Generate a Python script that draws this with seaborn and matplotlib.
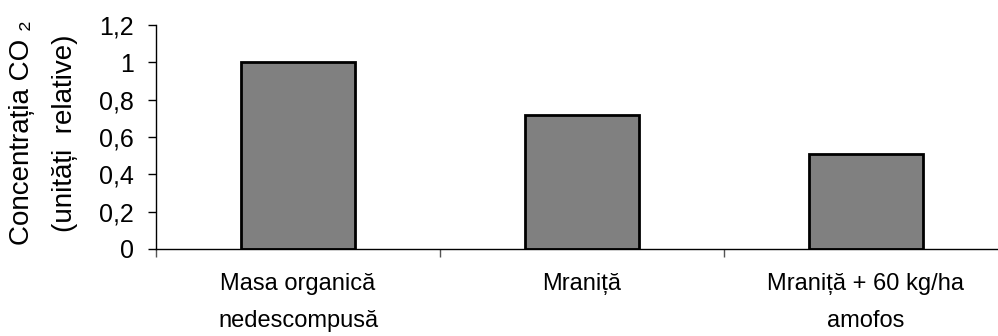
import matplotlib
matplotlib.use("Agg")
import numpy as np
import pandas as pd
import seaborn as sns
from matplotlib import pyplot as plt
from matplotlib.ticker import FuncFormatter

# ========================================================
# data
categories = ["Masa organică\nnedescompusă", "Mraniță", "Mraniță + 60 kg/ha\namofos"]
values = [1.0, 0.72, 0.51]
yticks = [0, 0.2, 0.4, 0.6, 0.8, 1.0, 1.2]

# ========================================================
sns.set_style("white")
plt.rcParams["font.family"] = ["Liberation Sans", "DejaVu Sans"]
plt.rcParams["text.color"] = "black"
plt.rcParams["xtick.color"] = "black"
plt.rcParams["ytick.color"] = "black"

df = pd.DataFrame({"cat": categories, "val": values})

fig = plt.figure(figsize=(9.98, 3.36), dpi=100)
ax = fig.add_axes([156 / 998, 1 - 249 / 336, (1008 - 156) / 998, (249 - 25) / 336])

sns.barplot(data=df, x="cat", y="val", ax=ax, color="#808080", saturation=1,
            width=0.4, edgecolor="black", linewidth=2)

ax.set_xlim(-0.5, 2.5)
ax.set_ylim(0, 1.2)
ax.set_yticks(yticks)
ax.yaxis.set_major_formatter(FuncFormatter(lambda v, p: f"{v:g}".replace(".", ",")))
ax.set_xticks([-0.5, 0.5, 1.5, 2.5])
ax.set_xticklabels([])
ax.set_xticks([0, 1, 2], minor=True)
ax.set_xticklabels(categories, minor=True, fontsize=17, linespacing=1.9)
ax.tick_params(axis="x", which="minor", bottom=False, length=0, pad=17)
ax.tick_params(axis="x", which="major", bottom=True, length=6, width=1,
               color="#555555", direction="out")
ax.tick_params(axis="y", left=True, length=6, width=1, color="black",
               direction="out", pad=10, labelsize=18)
ax.set_xlabel("")
ax.set_ylabel("")

for s in ["top", "right"]:
    ax.spines[s].set_visible(False)
for s in ["left", "bottom"]:
    ax.spines[s].set_color("black")
    ax.spines[s].set_linewidth(1)

fig.text(22 / 998, 1 - 133 / 336, "Concentrația CO ₂", rotation=90, fontsize=20,
         ha="center", va="center")
fig.text(65 / 998, 1 - 133 / 336, "(unități  relative)", rotation=90, fontsize=20,
         ha="center", va="center")

fig.savefig("out.png", dpi=100, facecolor="white")
